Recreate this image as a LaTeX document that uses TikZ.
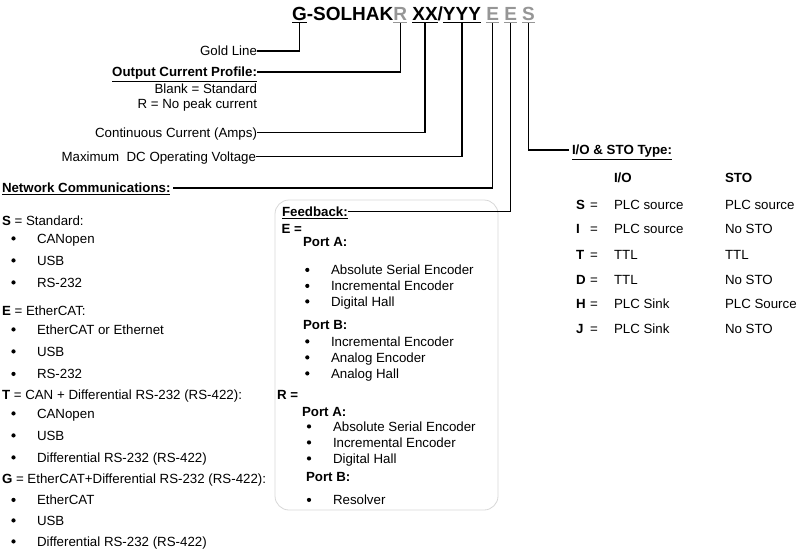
\documentclass[tikz,border=0pt]{standalone}
\usepackage{fontspec}
\setmainfont{Liberation Sans}
\definecolor{codegray}{RGB}{150,150,150}
\definecolor{boxgray}{RGB}{215,215,215}
\begin{document}
\begin{tikzpicture}[x=1pt,y=-1pt,
  every node/.style={inner sep=0pt, outer sep=0pt, font=\fontsize{13.3}{16}\selectfont},
  bf/.style={font=\fontsize{13.3}{16}\selectfont\bfseries},
  lbl/.style={anchor=base east, text height=9.6pt, text depth=0pt},
  lbll/.style={anchor=base west, text height=9.6pt, text depth=0pt},
  txt/.style={anchor=base west},
  txtr/.style={anchor=base east},
  ttl/.style={anchor=base west, font=\fontsize{19}{22}\selectfont\bfseries, text height=13.6pt, text depth=0pt},
  conn/.style={line width=1.1pt, black},
  ul/.style={line width=1.3pt},
  bul/.style={circle, fill=black, minimum size=4.2pt, inner sep=0pt},
  fbox/.style={draw=boxgray, rounded corners=14pt, line width=0.8pt, minimum width=223pt, minimum height=310pt}
]
\useasboundingbox (0,0) rectangle (800,552);

% ---------- title ----------
\node[ttl] (tG) at (292,20.5) {G};
\node[ttl] (tSO) at (tG.base east) {-SOLHAK};
\node[ttl, text=codegray] (tR) at (tSO.base east) {R};
\node[ttl] (tX) at ([xshift=5.3pt]tR.base east) {XX};
\node[ttl] (tSl) at (tX.base east) {/};
\node[ttl] (tY) at (tSl.base east) {YYY};
\node[ttl, text=codegray] (tE1) at ([xshift=5.3pt]tY.base east) {E};
\node[ttl, text=codegray] (tE2) at ([xshift=5.3pt]tE1.base east) {E};
\node[ttl, text=codegray] (tS) at ([xshift=5.3pt]tE2.base east) {S};

\foreach \n/\c in {tG/black, tR/codegray, tX/black, tY/black, tE1/codegray, tE2/codegray, tS/codegray}{
  \draw[ul, draw=\c] ([yshift=-2.3pt]\n.base west) -- ([yshift=-2.3pt]\n.base east);
  \coordinate (c\n) at ([yshift=-2.3pt]\n.base);
}

% ---------- left labels ----------
\node[lbl] (gold) at (257,55.8) {Gold Line};
\node[lbl, bf] (ocp) at (257,76.8) {\underline{Output Current Profile:}};
\node[txtr] (blank) at (257,93) {Blank = Standard};
\node[txtr] (rnp) at (257,108) {R = No peak current};
\node[lbl] (cont) at (257,137.3) {Continuous Current (Amps)};
\node[lbl] (maxv) at (256,161.3) {Maximum\ \ DC Operating Voltage};
\node[lbll, bf] (net) at (2,192.8) {\underline{Network Communications:}};

\draw[conn] (gold.east) -| (ctG);
\draw[conn] (ocp.east) -| (ctR);
\draw[conn] (cont.east) -| (ctX);
\draw[conn] (maxv.east) -| (ctY);
\draw[conn] ([xshift=3pt]net.east) -| (ctE1);

% ---------- network list ----------
\node[txt] (sS) at (2,225) {\textbf{S} = Standard:};
\node[txt] (sE) at (2,315) {\textbf{E} = EtherCAT:};
\node[txt] (sT) at (2,399.5) {\textbf{T} = CAN + Differential RS-232 (RS-422):};
\node[txt] (sG) at (2,483) {\textbf{G} = EtherCAT+Differential RS-232 (RS-422):};
\foreach \y/\t [count=\i] in {243/CANopen, 265/USB, 287/RS-232,
   334/EtherCAT or Ethernet, 356/USB, 378.5/RS-232,
   418/CANopen, 440/USB, 462/Differential RS-232 (RS-422),
   504.5/EtherCAT, 525/USB, 546/Differential RS-232 (RS-422)}{
  \node[bul] (lb\i) at (13.5,\y-4.6) {};
  \node[txt] (lt\i) at (37,\y) {\t};
}

% ---------- feedback ----------
\node[fbox] (fbbox) at (386.5,355) {};
\node[lbll, bf] (fb) at (282,216.3) {\underline{Feedback:}};
\draw[conn] (fb.east) -| (ctE2);
\node[txt, bf] (fe) at (281.5,233) {E =};
\node[txt, bf] (fpa1) at (303,246) {Port A:};
\node[txt, bf] (fpb1) at (303,329.5) {Port B:};
\node[txt, bf] (fr) at (277,399.5) {R =};
\node[txt, bf] (fpa2) at (302,416) {Port A:};
\node[txt, bf] (fpb2) at (306,481) {Port B:};
\foreach \y/\t [count=\i] in {274.5/Absolute Serial Encoder, 290.5/Incremental Encoder, 306/Digital Hall,
   346/Incremental Encoder, 362/Analog Encoder, 378/Analog Hall}{
  \node[bul] (fbA\i) at (307.3,\y-4.6) {};
  \node[txt] (ftA\i) at (331,\y) {\t};
}
\foreach \y/\t [count=\i] in {431/Absolute Serial Encoder, 447/Incremental Encoder, 463/Digital Hall, 504.5/Resolver}{
  \node[bul] (fbR\i) at (309,\y-4.6) {};
  \node[txt] (ftR\i) at (333,\y) {\t};
}

% ---------- I/O & STO ----------
\node[lbll, bf] (ios) at (572,154.8) {\underline{I/O \& STO Type:}};
\draw[conn] ([xshift=-3pt]ios.west) -| (ctS);
\node[txt, bf] (hio) at (614,182.7) {I/O};
\node[txt, bf] (hsto) at (725,182.7) {STO};
\foreach \y/\l/\a/\b [count=\i] in {209.2/S/PLC source/PLC source,
   233.7/I/PLC source/No STO,
   259.2/T/TTL/TTL,
   284.2/D/TTL/No STO,
   308.7/H/PLC Sink/PLC Source,
   333.7/J/PLC Sink/No STO}{
  \node[txt, bf] (rl\i) at (576,\y) {\l};
  \node[txt] (re\i) at (590,\y) {=};
  \node[txt] (ra\i) at (614,\y) {\a};
  \node[txt] (rb\i) at (725,\y) {\b};
}
\end{tikzpicture}
\end{document}
